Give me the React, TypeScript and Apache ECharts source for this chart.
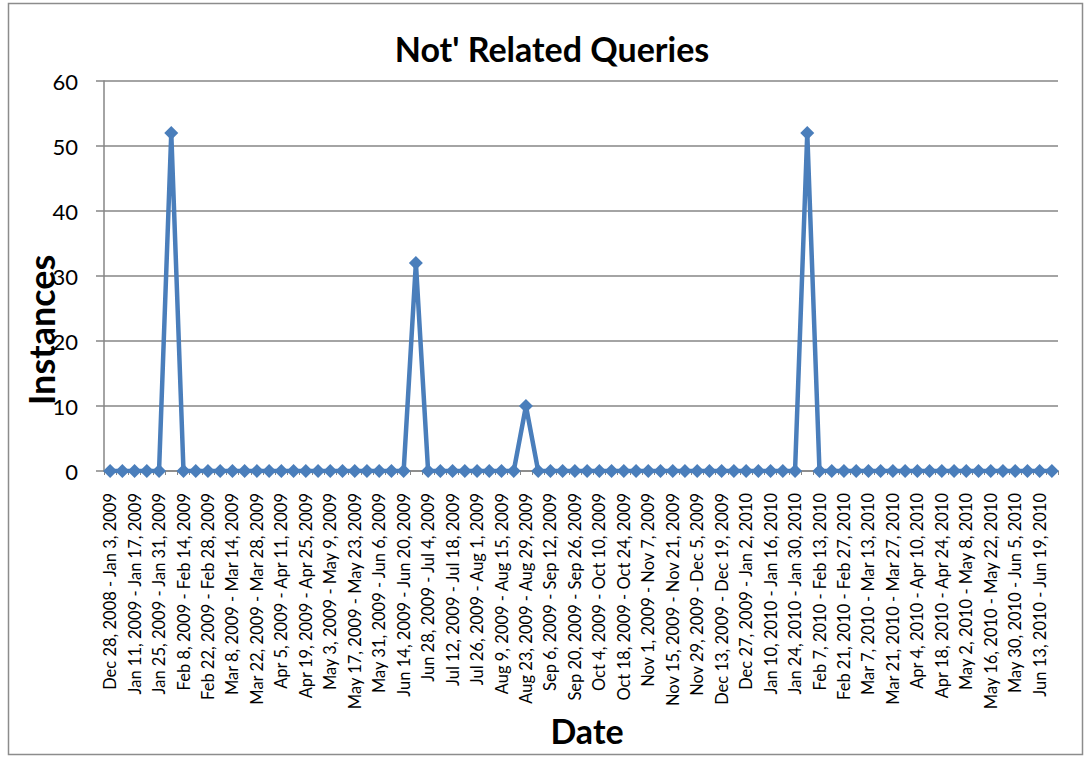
import React, { useEffect, useRef } from "react";
import * as echarts from "echarts";

const categories: string[] = [
  "Dec 28, 2008 - Jan 3, 2009",
  "Jan 4, 2009 - Jan 10, 2009",
  "Jan 11, 2009 - Jan 17, 2009",
  "Jan 18, 2009 - Jan 24, 2009",
  "Jan 25, 2009 - Jan 31, 2009",
  "Feb 1, 2009 - Feb 7, 2009",
  "Feb 8, 2009 - Feb 14, 2009",
  "Feb 15, 2009 - Feb 21, 2009",
  "Feb 22, 2009 - Feb 28, 2009",
  "Mar 1, 2009 - Mar 7, 2009",
  "Mar 8, 2009 - Mar 14, 2009",
  "Mar 15, 2009 - Mar 21, 2009",
  "Mar 22, 2009 - Mar 28, 2009",
  "Mar 29, 2009 - Apr 4, 2009",
  "Apr 5, 2009 - Apr 11, 2009",
  "Apr 12, 2009 - Apr 18, 2009",
  "Apr 19, 2009 - Apr 25, 2009",
  "Apr 26, 2009 - May 2, 2009",
  "May 3, 2009 - May 9, 2009",
  "May 10, 2009 - May 16, 2009",
  "May 17, 2009 - May 23, 2009",
  "May 24, 2009 - May 30, 2009",
  "May 31, 2009 - Jun 6, 2009",
  "Jun 7, 2009 - Jun 13, 2009",
  "Jun 14, 2009 - Jun 20, 2009",
  "Jun 21, 2009 - Jun 27, 2009",
  "Jun 28, 2009 - Jul 4, 2009",
  "Jul 5, 2009 - Jul 11, 2009",
  "Jul 12, 2009 - Jul 18, 2009",
  "Jul 19, 2009 - Jul 25, 2009",
  "Jul 26, 2009 - Aug 1, 2009",
  "Aug 2, 2009 - Aug 8, 2009",
  "Aug 9, 2009 - Aug 15, 2009",
  "Aug 16, 2009 - Aug 22, 2009",
  "Aug 23, 2009 - Aug 29, 2009",
  "Aug 30, 2009 - Sep 5, 2009",
  "Sep 6, 2009 - Sep 12, 2009",
  "Sep 13, 2009 - Sep 19, 2009",
  "Sep 20, 2009 - Sep 26, 2009",
  "Sep 27, 2009 - Oct 3, 2009",
  "Oct 4, 2009 - Oct 10, 2009",
  "Oct 11, 2009 - Oct 17, 2009",
  "Oct 18, 2009 - Oct 24, 2009",
  "Oct 25, 2009 - Oct 31, 2009",
  "Nov 1, 2009 - Nov 7, 2009",
  "Nov 8, 2009 - Nov 14, 2009",
  "Nov 15, 2009 - Nov 21, 2009",
  "Nov 22, 2009 - Nov 28, 2009",
  "Nov 29, 2009 - Dec 5, 2009",
  "Dec 6, 2009 - Dec 12, 2009",
  "Dec 13, 2009 - Dec 19, 2009",
  "Dec 20, 2009 - Dec 26, 2009",
  "Dec 27, 2009 - Jan 2, 2010",
  "Jan 3, 2010 - Jan 9, 2010",
  "Jan 10, 2010 - Jan 16, 2010",
  "Jan 17, 2010 - Jan 23, 2010",
  "Jan 24, 2010 - Jan 30, 2010",
  "Jan 31, 2010 - Feb 6, 2010",
  "Feb 7, 2010 - Feb 13, 2010",
  "Feb 14, 2010 - Feb 20, 2010",
  "Feb 21, 2010 - Feb 27, 2010",
  "Feb 28, 2010 - Mar 6, 2010",
  "Mar 7, 2010 - Mar 13, 2010",
  "Mar 14, 2010 - Mar 20, 2010",
  "Mar 21, 2010 - Mar 27, 2010",
  "Mar 28, 2010 - Apr 3, 2010",
  "Apr 4, 2010 - Apr 10, 2010",
  "Apr 11, 2010 - Apr 17, 2010",
  "Apr 18, 2010 - Apr 24, 2010",
  "Apr 25, 2010 - May 1, 2010",
  "May 2, 2010 - May 8, 2010",
  "May 9, 2010 - May 15, 2010",
  "May 16, 2010 - May 22, 2010",
  "May 23, 2010 - May 29, 2010",
  "May 30, 2010 - Jun 5, 2010",
  "Jun 6, 2010 - Jun 12, 2010",
  "Jun 13, 2010 - Jun 19, 2010",
  "Jun 20, 2010 - Jun 26, 2010",
];

const instances: number[] = [
  0, 0, 0, 0, 0, 52, 0, 0, 0, 0,
  0, 0, 0, 0, 0, 0, 0, 0, 0, 0,
  0, 0, 0, 0, 0, 32, 0, 0, 0, 0,
  0, 0, 0, 0, 10, 0, 0, 0, 0, 0,
  0, 0, 0, 0, 0, 0, 0, 0, 0, 0,
  0, 0, 0, 0, 0, 0, 0, 52, 0, 0,
  0, 0, 0, 0, 0, 0, 0, 0, 0, 0,
  0, 0, 0, 0, 0, 0, 0, 0,
];

const yTicks = { min: 0, max: 60, interval: 10 };

const FONT = "Lato, 'Open Sans', sans-serif";

export default function App() {
  const ref = useRef<HTMLDivElement>(null);

  useEffect(() => {
    if (!ref.current) return;
    const chart = echarts.init(ref.current, undefined, { renderer: "svg" });
    chart.setOption({
      animation: false,
      backgroundColor: "#ffffff",
      title: {
        text: "Not' Related Queries",
        left: 547,
        textAlign: "center",
        top: 26,
        textStyle: { fontFamily: FONT, fontWeight: "bold", fontSize: 34, color: "#000" },
      },
      graphic: [
        {
          type: "rect",
          shape: { x: 8.5, y: 3.5, width: 1074, height: 751 },
          style: { fill: "none", stroke: "#8c8c8c", lineWidth: 1.5 },
          z: 0,
        },
        {
          type: "text",
          x: 41,
          y: 330,
          rotation: Math.PI / 2,
          style: {
            text: "Instances",
            fontFamily: FONT,
            fontWeight: "bold",
            fontSize: 36,
            fill: "#000",
            textAlign: "center",
            textVerticalAlign: "middle",
          },
        },
        {
          type: "text",
          x: 587,
          y: 730,
          style: {
            text: "Date",
            fontFamily: FONT,
            fontWeight: "bold",
            fontSize: 34,
            fill: "#000",
            textAlign: "center",
            textVerticalAlign: "middle",
          },
        },
      ],
      grid: { left: 104, right: 26, top: 81, bottom: 286, containLabel: false },
      xAxis: {
        type: "category",
        data: categories,
        boundaryGap: true,
        axisLine: { lineStyle: { color: "#868686", width: 1.5 } },
        axisTick: {
          show: true,
          interval: 0,
          alignWithLabel: false,
          length: 4,
          lineStyle: { color: "#868686", width: 1 },
        },
        axisLabel: {
          interval: 1,
          rotate: 90,
          margin: 22,
          fontFamily: FONT,
          fontSize: 16.5,
          color: "#000",
        },
      },
      yAxis: {
        type: "value",
        min: yTicks.min,
        max: yTicks.max,
        interval: yTicks.interval,
        axisLine: { show: true, lineStyle: { color: "#868686", width: 1.5 } },
        axisTick: { show: true, length: 8, lineStyle: { color: "#868686", width: 1.5 } },
        axisLabel: { fontFamily: FONT, fontSize: 22, color: "#000", margin: 26 },
        splitLine: { lineStyle: { color: "#868686", width: 1.5 } },
      },
      series: [
        {
          type: "line",
          data: instances,
          symbol: "diamond",
          symbolSize: 14,
          showSymbol: true,
          showAllSymbol: true,
          lineStyle: { color: "#4a7ebb", width: 4.5 },
          itemStyle: { color: "#4a7ebb" },
        },
      ],
    });
    return () => chart.dispose();
  }, []);

  return (
    <div
      ref={ref}
      style={{ position: "absolute", left: 0, top: 0, width: 1084, height: 757 }}
    />
  );
}
